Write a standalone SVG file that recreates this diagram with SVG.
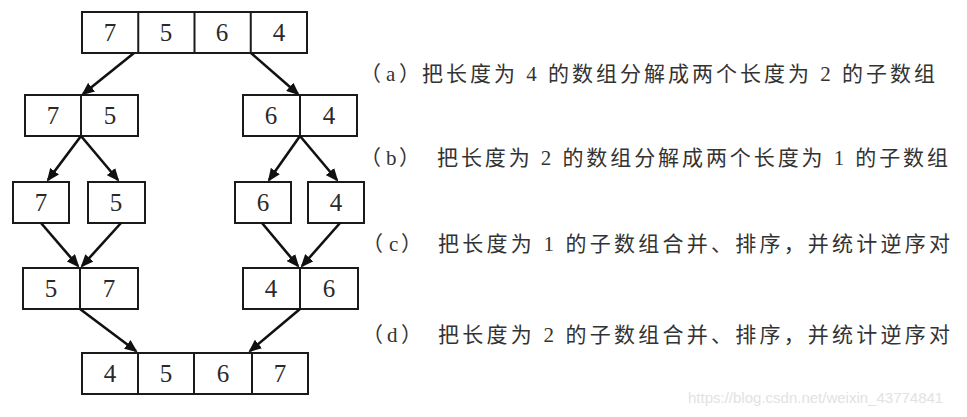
<svg xmlns="http://www.w3.org/2000/svg" width="967" height="417" viewBox="0 0 967 417">
<style>
.box{fill:#fff;stroke:#1a1a1a;stroke-width:2}
.div{stroke:#1a1a1a;stroke-width:2}
.num{font-family:'Liberation Serif','Times New Roman',serif;font-size:25px;fill:#2a2a2a;text-anchor:middle}
.cap{font-family:'Liberation Serif','Noto Sans CJK SC',serif;font-size:21px;fill:#333}
.par{font-family:'Noto Sans CJK SC',sans-serif}
.arr{stroke:#111;stroke-width:2.6;fill:none;marker-end:url(#ah)}
.wm{font-family:'Liberation Sans',Arial,sans-serif;font-size:15px;fill:#e2e2e2}
</style>
<defs>
<marker id="ah" markerUnits="userSpaceOnUse" markerWidth="13" markerHeight="11" refX="11" refY="5.5" orient="auto">
<path d="M0,0 L13,5.5 L0,11 z" fill="#111"/>
</marker>
</defs>
<rect width="967" height="417" fill="#fff"/>

<g id="n-top">
<rect class="box" x="82" y="12" width="225" height="41"/>
<line class="div" x1="138.25" y1="12" x2="138.25" y2="53"/>
<line class="div" x1="194.5" y1="12" x2="194.5" y2="53"/>
<line class="div" x1="250.75" y1="12" x2="250.75" y2="53"/>
<text class="num" x="110" y="41">7</text>
<text class="num" x="166" y="41">5</text>
<text class="num" x="222" y="41">6</text>
<text class="num" x="279" y="41">4</text>
</g>

<g id="n-l2a">
<rect class="box" x="25" y="95" width="113" height="41"/>
<line class="div" x1="81" y1="95" x2="81" y2="136"/>
<text class="num" x="53" y="124">7</text>
<text class="num" x="110" y="124">5</text>
</g>
<g id="n-l2b">
<rect class="box" x="243" y="95" width="114" height="41"/>
<line class="div" x1="300" y1="95" x2="300" y2="136"/>
<text class="num" x="271" y="124">6</text>
<text class="num" x="329" y="124">4</text>
</g>

<g id="n-l3a">
<rect class="box" x="13" y="182" width="56" height="41"/>
<text class="num" x="41" y="211">7</text>
</g>
<g id="n-l3b">
<rect class="box" x="88" y="182" width="57" height="41"/>
<text class="num" x="116" y="211">5</text>
</g>
<g id="n-l3c">
<rect class="box" x="235" y="182" width="56" height="41"/>
<text class="num" x="263" y="211">6</text>
</g>
<g id="n-l3d">
<rect class="box" x="308" y="182" width="56" height="41"/>
<text class="num" x="336" y="211">4</text>
</g>

<g id="n-l4a">
<rect class="box" x="23" y="268" width="115" height="41"/>
<line class="div" x1="80" y1="268" x2="80" y2="309"/>
<text class="num" x="51" y="297">5</text>
<text class="num" x="109" y="297">7</text>
</g>
<g id="n-l4b">
<rect class="box" x="243" y="268" width="115" height="41"/>
<line class="div" x1="300" y1="268" x2="300" y2="309"/>
<text class="num" x="271" y="297">4</text>
<text class="num" x="329" y="297">6</text>
</g>

<g id="n-bottom">
<rect class="box" x="82" y="353" width="226" height="41"/>
<line class="div" x1="138" y1="353" x2="138" y2="394"/>
<line class="div" x1="194" y1="353" x2="194" y2="394"/>
<line class="div" x1="252" y1="353" x2="252" y2="394"/>
<text class="num" x="110" y="382">4</text>
<text class="num" x="166" y="382">5</text>
<text class="num" x="223" y="382">6</text>
<text class="num" x="280" y="382">7</text>
</g>

<g id="connectors">
<line class="arr" x1="134" y1="53" x2="83" y2="94"/>
<line class="arr" x1="251" y1="53" x2="298" y2="94"/>
<line class="arr" x1="81" y1="136" x2="48" y2="180"/>
<line class="arr" x1="81" y1="136" x2="118" y2="180"/>
<line class="arr" x1="300" y1="136" x2="269" y2="180"/>
<line class="arr" x1="300" y1="136" x2="337" y2="180"/>
<line class="arr" x1="41" y1="223" x2="78" y2="266"/>
<line class="arr" x1="121" y1="223" x2="82" y2="266"/>
<line class="arr" x1="262" y1="223" x2="298" y2="266"/>
<line class="arr" x1="340" y1="223" x2="302" y2="266"/>
<line class="arr" x1="80" y1="309" x2="136" y2="351"/>
<line class="arr" x1="300" y1="309" x2="250" y2="351"/>
</g>

<g id="captions">
<text class="cap" y="81"><tspan class="par" x="360">（</tspan><tspan x="386">a</tspan><tspan class="par" x="399">）</tspan></text>
<text class="cap" x="422" y="81" textLength="513" lengthAdjust="spacing">把长度为 4 的数组分解成两个长度为 2 的子数组</text>
<text class="cap" y="165"><tspan class="par" x="360">（</tspan><tspan x="386">b</tspan><tspan class="par" x="399">）</tspan></text>
<text class="cap" x="437" y="165" textLength="511" lengthAdjust="spacing">把长度为 2 的数组分解成两个长度为 1 的子数组</text>
<text class="cap" y="251"><tspan class="par" x="362">（</tspan><tspan x="389">c</tspan><tspan class="par" x="401">）</tspan></text>
<text class="cap" x="438" y="251" textLength="512" lengthAdjust="spacing">把长度为 1 的子数组合并、排序，并统计逆序对</text>
<text class="cap" y="342"><tspan class="par" x="362">（</tspan><tspan x="387">d</tspan><tspan class="par" x="401">）</tspan></text>
<text class="cap" x="438" y="342" textLength="512" lengthAdjust="spacing">把长度为 2 的子数组合并、排序，并统计逆序对</text>
</g>

<text class="wm" x="688" y="403">https://blog.csdn.net/weixin_43774841</text>
</svg>
